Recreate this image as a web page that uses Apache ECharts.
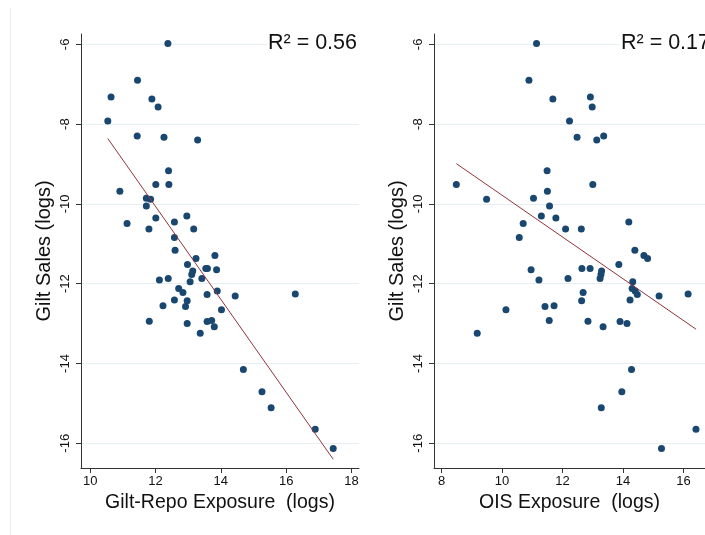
<!DOCTYPE html>
<html>
<head>
<meta charset="utf-8">
<script src="https://cdn.jsdelivr.net/npm/echarts@6/dist/echarts.min.js"></script>
<style>
  html, body { margin: 0; padding: 0; background: #fff; }
  #chart { width: 705px; height: 535px; }
</style>
</head>
<body>
<div id="chart"></div>
<script>
// gilt sales (logs), one value per observation, shared by both panels
var giltSales = [-5.98, -6.90, -7.32, -7.37, -7.57, -7.92, -8.30, -8.33, -8.40, -9.17,
  -9.51, -9.51, -9.68, -9.86, -9.88, -10.05, -10.30, -10.35, -10.45, -10.49,
  -10.63, -10.63, -10.84, -11.16, -11.29, -11.37, -11.52, -11.62, -11.62, -11.65,
  -11.68, -11.77, -11.87, -11.87, -11.91, -11.95, -12.12, -12.18, -12.22, -12.26,
  -12.27, -12.31, -12.41, -12.43, -12.57, -12.55, -12.65, -12.92, -12.94, -12.95,
  -13.00, -13.08, -13.24, -14.15, -14.71, -15.11, -15.65, -16.13];
// gilt-repo exposure (logs)
var repoExposure = [12.38, 11.45, 10.64, 11.89, 12.08, 10.54, 11.44, 12.26, 13.29, 12.40,
  12.01, 12.41, 10.91, 11.72, 11.85, 11.72, 12.96, 12.01, 12.58, 11.13,
  11.80, 13.17, 12.58, 12.60, 13.82, 13.24, 12.98, 13.54, 13.59, 13.87,
  13.14, 13.11, 12.39, 13.42, 12.12, 13.06, 12.71, 13.89, 12.84, 16.28,
  13.58, 14.44, 12.58, 12.97, 12.92, 12.23, 14.02, 13.72, 11.81, 13.58,
  12.97, 13.80, 13.37, 14.69, 15.26, 15.54, 16.89, 17.44];
// OIS exposure (logs)
var oisExposure = [11.14, 10.89, 12.92, 11.68, 12.98, 12.23, 13.36, 12.48, 13.13, 11.49,
  8.49, 13.00, 11.50, 11.04, 9.49, 11.57, 11.30, 11.78, 14.19, 10.70,
  12.10, 12.62, 10.57, 14.39, 14.69, 14.81, 13.86, 12.64, 12.91, 10.96,
  13.29, 13.27, 12.18, 13.24, 11.22, 14.32, 14.30, 14.40, 12.68, 16.15,
  14.47, 15.19, 14.23, 12.63, 11.42, 11.72, 10.13, 11.56, 12.84, 13.90,
  14.13, 13.34, 9.18, 14.28, 13.96, 13.28, 16.41, 15.27];

// fitted lines, end points
var fitRepoX = [10.54, 17.44];
var fitRepoY = [-8.36, -16.40];
var fitOisX = [8.49, 16.41];
var fitOisY = [-8.99, -13.14];

var r2Labels = ['R\u00b2 = 0.56', 'R\u00b2 = 0.17'];
var yTicks = [-16, -14, -12, -10, -8, -6];
var repoTicks = [10, 12, 14, 16, 18];
var oisTicks = [8, 10, 12, 14, 16];

function pairs(xs, ys) {
  return xs.map(function (x, i) { return [x, ys[i]]; });
}

var font = 'Liberation Sans, Arial, sans-serif';
var axisCol = '#333';
var gridCol = '#e6eef1';

function xAxisOf(idx, min, max, ticks, name) {
  return {
    gridIndex: idx, type: 'value', min: min, max: max,
    name: name, nameLocation: 'middle', nameGap: 21,
    nameTextStyle: { fontFamily: font, fontSize: 19.5, color: '#111' },
    axisLine: { lineStyle: { color: axisCol, width: 1 } },
    axisTick: { length: 5, customValues: ticks, lineStyle: { color: axisCol } },
    axisLabel: { customValues: ticks, fontFamily: font, fontSize: 13, color: '#111', margin: 7 },
    splitLine: { show: false }
  };
}

function yAxisOf(idx) {
  return {
    gridIndex: idx, type: 'value', min: -16.62, max: -5.74,
    name: 'Gilt Sales (logs)', nameLocation: 'middle', nameGap: 27,
    nameTextStyle: { fontFamily: font, fontSize: 20, color: '#111' },
    axisLine: { show: true, lineStyle: { color: axisCol, width: 1 } },
    axisTick: { show: true, length: 5, customValues: yTicks, lineStyle: { color: axisCol } },
    axisLabel: { customValues: yTicks, rotate: 90, fontFamily: font, fontSize: 13, color: '#111', margin: 9 },
    splitLine: { show: true, lineStyle: { color: gridCol, width: 1 } }
  };
}

var chart = echarts.init(document.getElementById('chart'));
chart.setOption({
  backgroundColor: '#fff',
  animation: false,
  grid: [
    { left: 81, top: 34, width: 278, height: 434 },
    { left: 434, top: 34, width: 278, height: 434 }
  ],
  xAxis: [
    xAxisOf(0, 9.72, 18.23, repoTicks, 'Gilt-Repo Exposure  (logs)'),
    xAxisOf(1, 7.752, 16.708, oisTicks, 'OIS Exposure  (logs)')
  ],
  yAxis: [yAxisOf(0), yAxisOf(1)],
  series: [
    { type: 'scatter', xAxisIndex: 0, yAxisIndex: 0, symbolSize: 7,
      itemStyle: { color: '#1a476f', opacity: 1 }, data: pairs(repoExposure, giltSales), z: 3 },
    { type: 'line', xAxisIndex: 0, yAxisIndex: 0, showSymbol: false,
      lineStyle: { color: '#90353b', width: 1 }, data: pairs(fitRepoX, fitRepoY), z: 4 },
    { type: 'scatter', xAxisIndex: 1, yAxisIndex: 1, symbolSize: 7,
      itemStyle: { color: '#1a476f', opacity: 1 }, data: pairs(oisExposure, giltSales), z: 3 },
    { type: 'line', xAxisIndex: 1, yAxisIndex: 1, showSymbol: false,
      lineStyle: { color: '#90353b', width: 1 }, data: pairs(fitOisX, fitOisY), z: 4 }
  ],
  graphic: [
    { type: 'line', shape: { x1: 10.5, y1: 8, x2: 10.5, y2: 535 },
      style: { stroke: '#ececec', lineWidth: 1 } },
    { type: 'text', x: 358, y: 32, z: 10,
      style: { text: r2Labels[0], textAlign: 'right', textVerticalAlign: 'top',
        fontFamily: font, fontSize: 21.5, fill: '#111', backgroundColor: '#fff', padding: [0, 1] } },
    { type: 'text', x: 711, y: 32, z: 10,
      style: { text: r2Labels[1], textAlign: 'right', textVerticalAlign: 'top',
        fontFamily: font, fontSize: 21.5, fill: '#111', backgroundColor: '#fff', padding: [0, 1] } }
  ]
});
</script>
</body>
</html>
